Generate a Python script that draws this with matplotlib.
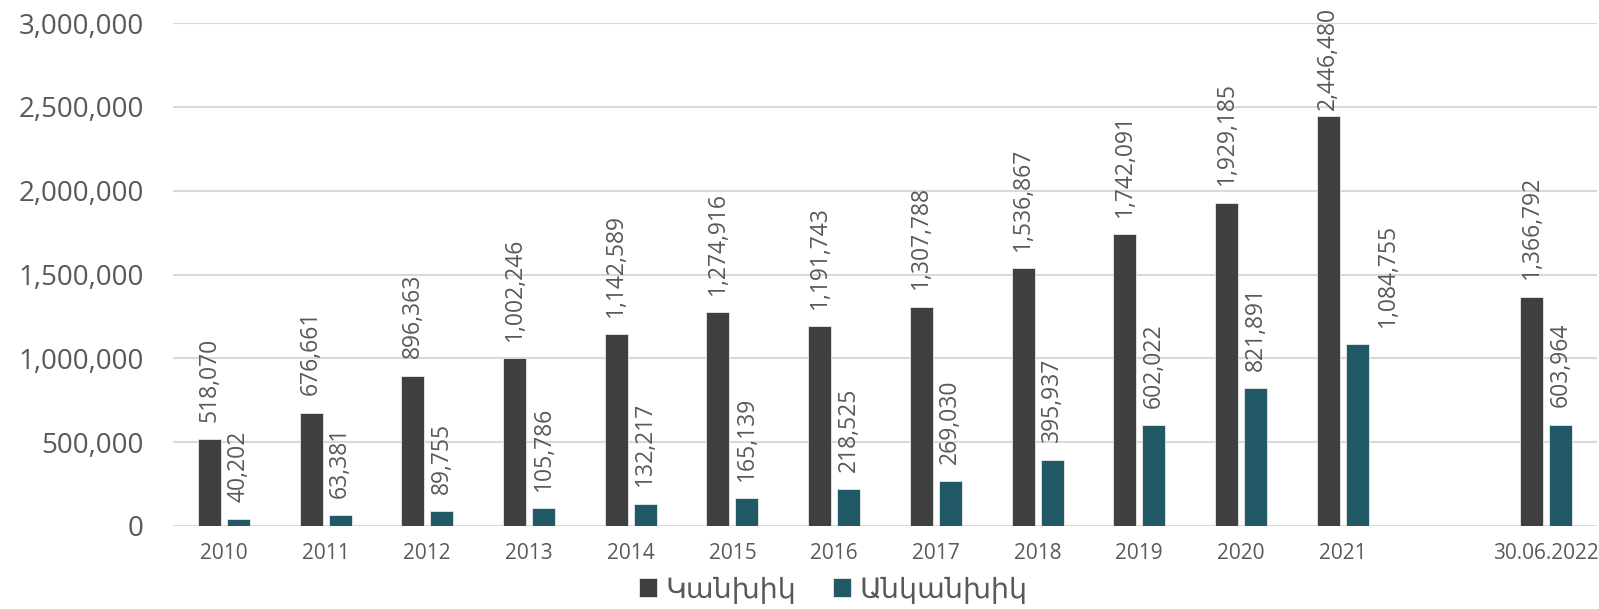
import matplotlib.pyplot as plt
import numpy as np
from matplotlib.ticker import FuncFormatter

plt.rcParams['font.family'] = ['Open Sans', 'DejaVu Sans']

periods = ["2010", "2011", "2012", "2013", "2014", "2015", "2016", "2017",
           "2018", "2019", "2020", "2021", "", "30.06.2022"]
cash = [518070, 676661, 896363, 1002246, 1142589, 1274916, 1191743, 1307788,
        1536867, 1742091, 1929185, 2446480, None, 1366792]
noncash = [40202, 63381, 89755, 105786, 132217, 165139, 218525, 269030,
           395937, 602022, 821891, 1084755, None, 603964]
series_names = ["Կանխիկ", "Անկանխիկ"]

CASH_COLOR = "#404040"
NONCASH_COLOR = "#215967"
TEXT_COLOR = "#595959"
GRID_COLOR = "#d9d9d9"

fig = plt.figure(figsize=(15.99, 6.09), dpi=100)
ax = fig.add_axes([0.1082, 0.1363, 0.8905, 0.8259])

x = np.arange(len(periods))
w = 0.226
off = 0.1426

def clean(vals):
    return [np.nan if v is None else v for v in vals]

b1 = ax.bar(x - off, clean(cash), w, color=CASH_COLOR, edgecolor="#e8e8e8",
            linewidth=0.6, label=series_names[0], zorder=3)
b2 = ax.bar(x + off, clean(noncash), w, color=NONCASH_COLOR, edgecolor="#e8e8e8",
            linewidth=0.6, label=series_names[1], zorder=3)

ax.set_xlim(-0.5, len(periods) - 0.5)
ax.set_ylim(0, 3000000)
ax.set_yticks(np.arange(0, 3000001, 500000))
ax.yaxis.set_major_formatter(FuncFormatter(lambda v, p: f"{int(v):,}"))
ax.set_xticks(x)
ax.set_xticklabels(periods)
ax.tick_params(axis="y", length=0, pad=21, labelsize=20, labelcolor=TEXT_COLOR)
ax.tick_params(axis="x", length=0, pad=12, labelsize=15, labelcolor=TEXT_COLOR)
ax.grid(axis="y", color=GRID_COLOR, linewidth=1.5, zorder=0)
for s in ax.spines.values():
    s.set_visible(False)

# value labels above bars, rotated; one label nudged to the side
labels = []
for i in range(len(periods)):
    for vals, xpos in ((cash, x[i] - off), (noncash, x[i] + off)):
        v = vals[i]
        if v is None:
            continue
        dx = 31 if (vals is noncash and periods[i] == "2021") else 0
        t = ax.annotate(f"{v:,}", (xpos, v), xytext=(dx * 0.72, 12.5),
                        textcoords="offset points", rotation=90,
                        ha="center", va="bottom", fontsize=16.5,
                        color=TEXT_COLOR, annotation_clip=False)
        labels.append(t)

# keep labels inside the figure
fig.canvas.draw()
renderer = fig.canvas.get_renderer()
fig_h = fig.bbox.height
for t in labels:
    bb = t.get_window_extent(renderer)
    if bb.y1 > fig_h - 7:
        shift = (bb.y1 - (fig_h - 7)) * 72 / fig.dpi
        px, py = t.xyann
        t.xyann = (px, py - shift)

leg = fig.legend(handles=[b1, b2], loc="lower center", ncol=2,
                 bbox_to_anchor=(0.521, -0.035), frameon=False, fontsize=20.5,
                 handlelength=0.62, handleheight=0.62, handletextpad=0.3,
                 columnspacing=1.3)
for txt in leg.get_texts():
    txt.set_color(TEXT_COLOR)

fig.savefig("out.png", dpi=100)
